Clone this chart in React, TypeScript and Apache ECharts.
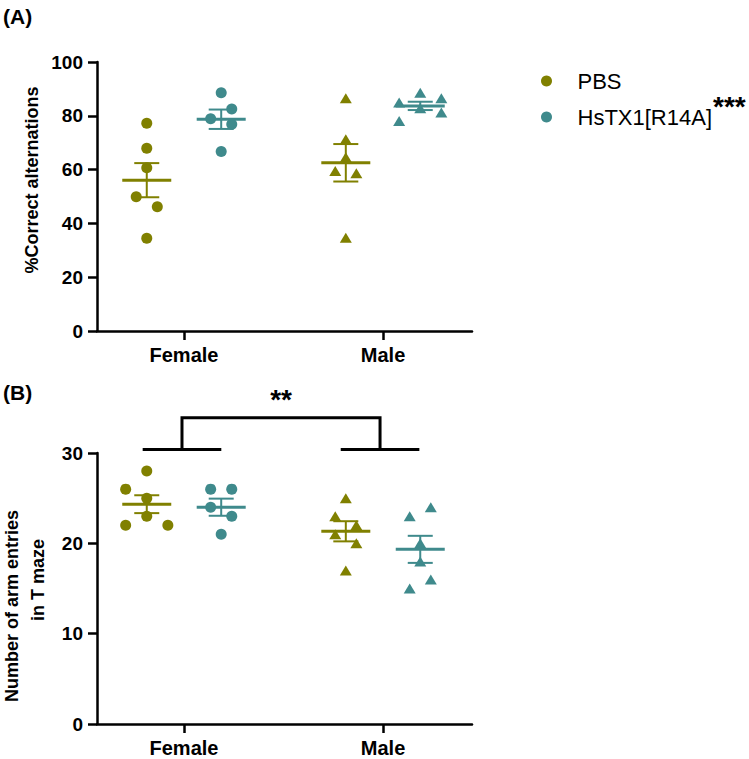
import React, { useEffect, useRef } from "react";
import * as echarts from "echarts";

const FONT = "'Liberation Sans', Arial, Helvetica, sans-serif";

const groups = ["Female", "Male"];
const treatments = ["PBS", "HsTX1[R14A]"];
const colors = ["#808000", "#3f8a8c"];
const groupSymbols = ["circle", "triangle"];

// Panel A: %Correct alternations (values) and horizontal jitter steps
const aFemalePbs = [77.2, 67.9, 60.7, 49.9, 46.2, 34.5];
const aFemalePbsJit = [0, 0, 0, -1, 1, 0];
const aFemaleHs = [88.6, 82.5, 78.9, 76.9, 66.7];
const aFemaleHsJit = [0, 1, -1, 1, 0];
const aMalePbs = [86.5, 71.3, 64.6, 59.5, 58.6, 34.7];
const aMalePbsJit = [0, 0, 0, -1, 1, 0];
const aMaleHs = [88.6, 86.5, 84.9, 82.8, 81.2, 78.1];
const aMaleHsJit = [0, 2, -2, 0, 2, -2];

// Panel B: Number of arm entries in T maze
const bFemalePbs = [28, 26, 25, 23, 22, 22];
const bFemalePbsJit = [0, -2, 0, 0, -2, 2];
const bFemaleHs = [26, 26, 24, 23, 21];
const bFemaleHsJit = [-1, 1, -1, 1, 0];
const bMalePbs = [25, 23, 22, 21, 20, 17];
const bMalePbsJit = [0, -1, 1, -1, 1, 0];
const bMaleHs = [24, 23, 20, 18, 16, 15];
const bMaleHsJit = [1, -1, 0, 0, 1, -1];

const yTicksA = { min: 0, max: 100, interval: 20 };
const yTicksB = { min: 0, max: 30, interval: 10 };

// significance bracket for panel B (sex effect)
const bracketArmsY = 30.4;
const bracketTopY = 33.9;
const bracketLabel = "**";
const legendSig = "***";

const OFF = 0.187;
const STEP = 0.053;

function mean(a: number[]) {
  return a.reduce((s, v) => s + v, 0) / a.length;
}
function sem(a: number[]) {
  const m = mean(a);
  const v = a.reduce((s, x) => s + (x - m) * (x - m), 0) / (a.length - 1);
  return Math.sqrt(v) / Math.sqrt(a.length);
}

const panelA = [
  [
    [aFemalePbs, aFemalePbsJit],
    [aFemaleHs, aFemaleHsJit],
  ],
  [
    [aMalePbs, aMalePbsJit],
    [aMaleHs, aMaleHsJit],
  ],
];
const panelB = [
  [
    [bFemalePbs, bFemalePbsJit],
    [bFemaleHs, bFemaleHsJit],
  ],
  [
    [bMalePbs, bMalePbsJit],
    [bMaleHs, bMaleHsJit],
  ],
];

function centerX(gi: number, ti: number) {
  return gi + 1 + (ti === 0 ? -OFF : OFF);
}

function buildSeries(panel: any[], idx: number) {
  const out: any[] = [];
  const stats: number[][] = [];
  panel.forEach((grp: any[], gi: number) => {
    grp.forEach((pair: any[], ti: number) => {
      const vals = pair[0] as number[];
      const jit = pair[1] as number[];
      out.push({
        type: "scatter",
        name: treatments[ti],
        xAxisIndex: idx,
        yAxisIndex: idx,
        symbol: groupSymbols[gi],
        symbolSize: gi === 0 ? 11 : [12, 10],
        itemStyle: { color: colors[ti], opacity: 1 },
        z: 2,
        data: vals.map((v, i) => [centerX(gi, ti) + jit[i] * STEP, v]),
      });
      stats.push([centerX(gi, ti), mean(vals), sem(vals), ti]);
    });
  });
  out.push({
    type: "custom",
    name: "meanSem" + idx,
    xAxisIndex: idx,
    yAxisIndex: idx,
    z: 3,
    silent: true,
    data: stats,
    renderItem: (params: any, api: any) => {
      const x = api.value(0);
      const m = api.value(1);
      const s = api.value(2);
      const col = colors[api.value(3)];
      const c = api.coord([x, m]);
      const t = api.coord([x, m + s]);
      const b = api.coord([x, m - s]);
      const w = 24.5;
      const cw = 12.5;
      return {
        type: "group",
        children: [
          { type: "line", shape: { x1: c[0] - w, y1: c[1], x2: c[0] + w, y2: c[1] }, style: { stroke: col, lineWidth: 3 } },
          { type: "line", shape: { x1: t[0], y1: t[1], x2: b[0], y2: b[1] }, style: { stroke: col, lineWidth: 2 } },
          { type: "line", shape: { x1: t[0] - cw, y1: t[1], x2: t[0] + cw, y2: t[1] }, style: { stroke: col, lineWidth: 2 } },
          { type: "line", shape: { x1: b[0] - cw, y1: b[1], x2: b[0] + cw, y2: b[1] }, style: { stroke: col, lineWidth: 2 } },
        ],
      };
    },
  });
  return out;
}

function bracketSeries() {
  return {
    type: "custom",
    name: "bracket",
    xAxisIndex: 1,
    yAxisIndex: 1,
    silent: true,
    clip: false,
    z: 4,
    data: [[0]],
    renderItem: (params: any, api: any) => {
      const fc = 1 - 0.01;
      const mc = 2 - 0.015;
      const armHalf = 0.19;
      const fl = api.coord([fc - armHalf, bracketArmsY]);
      const fr = api.coord([fc + armHalf, bracketArmsY]);
      const ml = api.coord([mc - armHalf, bracketArmsY]);
      const mr = api.coord([mc + armHalf, bracketArmsY]);
      const ft = api.coord([fc, bracketTopY]);
      const fb = api.coord([fc, bracketArmsY]);
      const mt = api.coord([mc, bracketTopY]);
      const mb = api.coord([mc, bracketArmsY]);
      const st = { stroke: "#000", lineWidth: 3, lineCap: "square" };
      return {
        type: "group",
        children: [
          { type: "line", shape: { x1: fl[0], y1: fl[1], x2: fr[0], y2: fr[1] }, style: st },
          { type: "line", shape: { x1: ml[0], y1: ml[1], x2: mr[0], y2: mr[1] }, style: st },
          { type: "polyline", shape: { points: [fb, ft, mt, mb] }, style: { ...st, fill: null } },
          {
            type: "text",
            x: (ft[0] + mt[0]) / 2,
            y: ft[1] - 4,
            style: {
              text: bracketLabel,
              fontSize: 28,
              fontWeight: "bold",
              fontFamily: FONT,
              fill: "#000",
              align: "center",
              verticalAlign: "bottom",
            },
          },
        ],
      };
    },
  };
}

function xAxis(idx: number) {
  return {
    type: "value",
    gridIndex: idx,
    min: 0.563,
    max: 2.447,
    splitLine: { show: false },
    axisLine: { show: true, onZero: false, lineStyle: { color: "#000", width: 2.5 } },
    axisTick: { show: true, length: 9, customValues: [1, 2], lineStyle: { color: "#000", width: 2.5 } },
    axisLabel: {
      customValues: [1, 2],
      formatter: (v: number) => groups[Math.round(v) - 1] ?? "",
      color: "#000",
      fontWeight: "bold",
      fontSize: 20,
      fontFamily: FONT,
      margin: 14,
    },
  };
}

function yAxis(idx: number, t: { min: number; max: number; interval: number }) {
  return {
    type: "value",
    gridIndex: idx,
    min: t.min,
    max: t.max,
    interval: t.interval,
    splitLine: { show: false },
    axisLine: { show: true, lineStyle: { color: "#000", width: 2.5 } },
    axisTick: { show: true, length: 9, lineStyle: { color: "#000", width: 2.5 } },
    axisLabel: { color: "#000", fontWeight: "bold", fontSize: 19, fontFamily: FONT, margin: 14 },
  };
}

export default function App() {
  const ref = useRef<HTMLDivElement>(null);
  useEffect(() => {
    if (!ref.current) return;
    const chart = echarts.init(ref.current, undefined, { renderer: "svg" });
    const option: any = {
      animation: false,
      backgroundColor: "#fff",
      grid: [
        { left: 97, top: 62, width: 375, height: 269 },
        { left: 97, top: 453, width: 375, height: 271 },
      ],
      xAxis: [xAxis(0), xAxis(1)],
      yAxis: [yAxis(0, yTicksA), yAxis(1, yTicksB)],
      legend: {
        orient: "vertical",
        left: 536,
        top: 65,
        itemWidth: 52,
        itemHeight: 11,
        itemGap: 14,
        icon: "circle",
        selectedMode: false,
        data: treatments,
        textStyle: { fontSize: 22, fontFamily: FONT, color: "#000", lineHeight: 22 },
      },
      graphic: [
        { type: "text", left: 3, top: 6, style: { text: "(A)", fontSize: 21, fontWeight: "bold", fontFamily: FONT, fill: "#000" } },
        { type: "text", left: 3, top: 382, style: { text: "(B)", fontSize: 21, fontWeight: "bold", fontFamily: FONT, fill: "#000" } },
        {
          type: "text",
          x: 32,
          y: 180,
          rotation: Math.PI / 2,
          style: { text: "%Correct alternations", fontSize: 18, fontWeight: "bold", fontFamily: FONT, fill: "#000", align: "center", verticalAlign: "middle" },
        },
        {
          type: "text",
          x: 12,
          y: 606,
          rotation: Math.PI / 2,
          style: { text: "Number of arm entries", fontSize: 18, fontWeight: "bold", fontFamily: FONT, fill: "#000", align: "center", verticalAlign: "middle" },
        },
        {
          type: "text",
          x: 38,
          y: 580,
          rotation: Math.PI / 2,
          style: { text: "in T maze", fontSize: 18, fontWeight: "bold", fontFamily: FONT, fill: "#000", align: "center", verticalAlign: "middle" },
        },
        {
          type: "text",
          left: 713,
          top: 92,
          style: { text: legendSig, fontSize: 28, fontWeight: "bold", fontFamily: FONT, fill: "#000" },
        },
      ],
      series: [...buildSeries(panelA, 0), ...buildSeries(panelB, 1), bracketSeries()],
    };
    chart.setOption(option);
    return () => chart.dispose();
  }, []);
  return <div ref={ref} style={{ position: "fixed", left: 0, top: 0, width: 749, height: 759, background: "#fff" }} />;
}
